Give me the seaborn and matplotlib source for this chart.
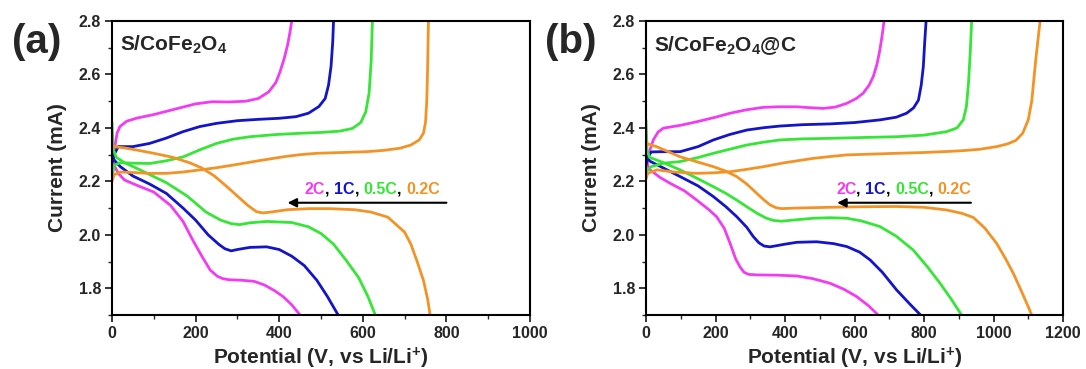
import matplotlib
matplotlib.use("Agg")
import matplotlib.pyplot as plt
import seaborn as sns
import pandas as pd
from matplotlib.offsetbox import TextArea, HPacker, AnnotationBbox
from matplotlib.ticker import MultipleLocator

# ---------------- data ----------------
rates = ["2C", "1C", "0.5C", "0.2C"]
colors = {"2C": "#F23CF2", "1C": "#1414C8", "0.5C": "#36E636", "0.2C": "#F39326"}

# Panel (a) S/CoFe2O4 -- discharge branches
a_dis_2C_x = [0, 5, 15, 30, 60, 100, 140, 170, 195, 215, 235, 252, 265, 280, 310, 340, 365, 390, 410, 430, 450]
a_dis_2C_y = [2.30, 2.26, 2.23, 2.205, 2.185, 2.16, 2.11, 2.05, 1.975, 1.92, 1.868, 1.845, 1.836, 1.832, 1.830, 1.826, 1.812, 1.790, 1.768, 1.738, 1.700]
a_dis_1C_x = [0, 5, 20, 50, 90, 130, 170, 200, 230, 255, 270, 285, 300, 330, 370, 400, 430, 460, 490, 515, 541]
a_dis_1C_y = [2.32, 2.28, 2.255, 2.22, 2.19, 2.155, 2.10, 2.055, 2.0, 1.965, 1.948, 1.94, 1.945, 1.953, 1.955, 1.945, 1.92, 1.885, 1.83, 1.77, 1.70]
a_dis_05C_x = [0, 3, 10, 30, 67, 130, 180, 225, 260, 285, 305, 330, 370, 430, 470, 500, 530, 560, 590, 612, 630]
a_dis_05C_y = [2.42, 2.32, 2.29, 2.27, 2.243, 2.195, 2.145, 2.085, 2.055, 2.042, 2.038, 2.045, 2.050, 2.046, 2.03, 2.005, 1.965, 1.905, 1.84, 1.77, 1.70]
a_dis_02C_x = [0, 5, 30, 60, 100, 145, 185, 215, 245, 275, 300, 325, 345, 360, 380, 420, 470, 520, 580, 620, 660, 700, 715, 730, 745, 755, 761]
a_dis_02C_y = [2.34, 2.33, 2.325, 2.317, 2.305, 2.29, 2.27, 2.25, 2.22, 2.18, 2.145, 2.11, 2.087, 2.082, 2.085, 2.094, 2.098, 2.098, 2.094, 2.085, 2.066, 2.01, 1.965, 1.90, 1.83, 1.76, 1.70]
# Panel (a) -- charge branches
a_ch_2C_x = [0, 3, 7, 12, 19, 35, 60, 100, 150, 200, 240, 280, 320, 350, 375, 392, 402, 412, 420, 426, 430]
a_ch_2C_y = [2.25, 2.28, 2.33, 2.38, 2.405, 2.425, 2.437, 2.45, 2.47, 2.49, 2.498, 2.497, 2.50, 2.51, 2.535, 2.57, 2.61, 2.66, 2.71, 2.76, 2.80]
a_ch_1C_x = [0, 5, 15, 30, 50, 90, 130, 170, 210, 250, 300, 350, 400, 440, 470, 495, 510, 518, 524, 528, 530]
a_ch_1C_y = [2.27, 2.30, 2.33, 2.33, 2.33, 2.342, 2.362, 2.386, 2.405, 2.417, 2.427, 2.432, 2.436, 2.442, 2.455, 2.48, 2.51, 2.56, 2.63, 2.72, 2.80]
a_ch_05C_x = [0, 5, 20, 50, 91, 130, 171, 210, 250, 290, 330, 390, 450, 500, 545, 575, 595, 607, 615, 620, 623]
a_ch_05C_y = [2.21, 2.26, 2.27, 2.268, 2.267, 2.277, 2.292, 2.318, 2.342, 2.358, 2.367, 2.375, 2.38, 2.383, 2.388, 2.398, 2.42, 2.46, 2.53, 2.65, 2.80]
a_ch_02C_x = [0, 5, 20, 51, 90, 131, 170, 211, 250, 290, 350, 410, 450, 490, 550, 609, 650, 689, 715, 735, 745, 750, 753, 755, 757]
a_ch_02C_y = [2.20, 2.225, 2.235, 2.233, 2.23, 2.23, 2.235, 2.243, 2.251, 2.261, 2.277, 2.292, 2.30, 2.305, 2.308, 2.311, 2.316, 2.324, 2.336, 2.355, 2.38, 2.42, 2.50, 2.62, 2.80]

# Panel (b) S/CoFe2O4@C -- discharge branches
b_dis_2C_x = [0, 5, 12, 40, 69, 110, 146, 180, 203, 225, 242, 258, 270, 282, 295, 320, 380, 434, 480, 529, 570, 606, 640, 668]
b_dis_2C_y = [2.29, 2.26, 2.243, 2.215, 2.193, 2.165, 2.13, 2.095, 2.068, 2.025, 1.968, 1.91, 1.881, 1.86, 1.852, 1.85, 1.849, 1.846, 1.836, 1.819, 1.796, 1.769, 1.735, 1.70]
b_dis_1C_x = [0, 5, 12, 50, 98, 150, 194, 230, 261, 290, 309, 325, 340, 357, 400, 434, 491, 540, 578, 615, 645, 680, 721, 760, 790]
b_dis_1C_y = [2.30, 2.285, 2.275, 2.25, 2.218, 2.183, 2.143, 2.105, 2.068, 2.028, 1.993, 1.97, 1.958, 1.955, 1.965, 1.972, 1.974, 1.967, 1.956, 1.935, 1.906, 1.86, 1.794, 1.74, 1.70]
b_dis_05C_x = [0, 3, 10, 50, 98, 146, 194, 230, 261, 290, 319, 345, 366, 390, 430, 481, 530, 578, 620, 673, 720, 769, 810, 846, 878, 908]
b_dis_05C_y = [2.43, 2.32, 2.29, 2.27, 2.243, 2.212, 2.18, 2.155, 2.13, 2.105, 2.081, 2.063, 2.054, 2.051, 2.056, 2.062, 2.064, 2.062, 2.052, 2.031, 1.995, 1.943, 1.88, 1.819, 1.76, 1.70]
b_dis_02C_x = [0, 5, 30, 98, 150, 194, 230, 261, 290, 319, 340, 357, 375, 390, 430, 529, 620, 721, 800, 865, 910, 942, 975, 1009, 1035, 1057, 1080, 1100, 1110]
b_dis_02C_y = [2.35, 2.34, 2.33, 2.292, 2.272, 2.255, 2.238, 2.218, 2.19, 2.155, 2.13, 2.112, 2.101, 2.098, 2.100, 2.103, 2.105, 2.106, 2.103, 2.093, 2.08, 2.065, 2.025, 1.968, 1.91, 1.856, 1.79, 1.731, 1.70]
# Panel (b) -- charge branches
b_ch_2C_x = [0, 5, 12, 21, 35, 50, 100, 146, 200, 242, 290, 338, 380, 434, 480, 510, 545, 578, 605, 625, 642, 654, 665, 673, 680, 685]
b_ch_2C_y = [2.25, 2.28, 2.32, 2.355, 2.385, 2.399, 2.41, 2.423, 2.44, 2.455, 2.468, 2.477, 2.479, 2.479, 2.475, 2.473, 2.478, 2.492, 2.51, 2.53, 2.56, 2.592, 2.64, 2.692, 2.75, 2.80]
b_ch_1C_x = [0, 5, 15, 40, 98, 150, 194, 240, 290, 340, 386, 450, 529, 600, 673, 720, 750, 770, 784, 792, 798, 802, 806]
b_ch_1C_y = [2.26, 2.29, 2.31, 2.311, 2.311, 2.33, 2.355, 2.375, 2.392, 2.401, 2.407, 2.412, 2.415, 2.42, 2.43, 2.44, 2.455, 2.475, 2.504, 2.56, 2.629, 2.72, 2.80]
b_ch_05C_x = [0, 3, 15, 50, 98, 146, 194, 240, 290, 340, 386, 450, 529, 620, 721, 800, 865, 895, 913, 922, 928, 933, 937]
b_ch_05C_y = [2.21, 2.24, 2.255, 2.268, 2.274, 2.288, 2.305, 2.32, 2.336, 2.347, 2.355, 2.359, 2.361, 2.364, 2.367, 2.373, 2.386, 2.40, 2.43, 2.48, 2.567, 2.68, 2.80]
b_ch_02C_x = [0, 5, 31, 80, 146, 194, 242, 290, 338, 400, 481, 530, 578, 650, 721, 800, 870, 913, 960, 1009, 1040, 1064, 1084, 1100, 1110, 1116, 1122, 1128, 1134]
b_ch_02C_y = [2.21, 2.23, 2.243, 2.235, 2.23, 2.232, 2.236, 2.245, 2.255, 2.27, 2.286, 2.293, 2.299, 2.302, 2.305, 2.308, 2.312, 2.315, 2.32, 2.33, 2.34, 2.353, 2.38, 2.43, 2.5, 2.58, 2.66, 2.73, 2.80]

x_ticks_a = [0, 200, 400, 600, 800, 1000]
x_ticks_b = [0, 200, 400, 600, 800, 1000, 1200]
y_ticks = [1.8, 2.0, 2.2, 2.4, 2.6, 2.8]
sample_labels = ["S/CoFe$_2$O$_4$", "S/CoFe$_2$O$_4$@C"]
panel_letters = ["(a)", "(b)"]

curves = {
    "a": {
        "2C": [(a_dis_2C_x, a_dis_2C_y), (a_ch_2C_x, a_ch_2C_y)],
        "1C": [(a_dis_1C_x, a_dis_1C_y), (a_ch_1C_x, a_ch_1C_y)],
        "0.5C": [(a_dis_05C_x, a_dis_05C_y), (a_ch_05C_x, a_ch_05C_y)],
        "0.2C": [(a_dis_02C_x, a_dis_02C_y), (a_ch_02C_x, a_ch_02C_y)],
    },
    "b": {
        "2C": [(b_dis_2C_x, b_dis_2C_y), (b_ch_2C_x, b_ch_2C_y)],
        "1C": [(b_dis_1C_x, b_dis_1C_y), (b_ch_1C_x, b_ch_1C_y)],
        "0.5C": [(b_dis_05C_x, b_dis_05C_y), (b_ch_05C_x, b_ch_05C_y)],
        "0.2C": [(b_dis_02C_x, b_dis_02C_y), (b_ch_02C_x, b_ch_02C_y)],
    },
}

# ---------------- style ----------------
sns.set_style("ticks")
plt.rcParams["font.family"] = ["Liberation Sans", "DejaVu Sans"]
plt.rcParams["font.weight"] = "bold"
plt.rcParams["axes.labelweight"] = "bold"
plt.rcParams["mathtext.fontset"] = "custom"
plt.rcParams["mathtext.rm"] = "Liberation Sans:bold"
plt.rcParams["mathtext.it"] = "Liberation Sans:bold"
plt.rcParams["mathtext.bf"] = "Liberation Sans:bold"
plt.rcParams["mathtext.sf"] = "Liberation Sans:bold"
plt.rcParams["mathtext.default"] = "rm"

W, H = 1086, 369
fig = plt.figure(figsize=(W / 100, H / 100), dpi=100)
ax_a = fig.add_axes([112 / W, 1 - 315 / H, 418 / W, 294 / H])
ax_b = fig.add_axes([646 / W, 1 - 315 / H, 417 / W, 294 / H])

settings = {
    "a": dict(ax=ax_a, xmax=1000, xticks=x_ticks_a, label=sample_labels[0],
              text_x=623, arrow=(800, 420), letter=panel_letters[0], letter_x=37),
    "b": dict(ax=ax_b, xmax=1200, xticks=x_ticks_b, label=sample_labels[1],
              text_x=742, arrow=(935, 550), letter=panel_letters[1], letter_x=571),
}

for key, s in settings.items():
    ax = s["ax"]
    for rate in rates:
        for xs, ys in curves[key][rate]:
            df = pd.DataFrame({"cap": xs, "volt": ys})
            sns.lineplot(data=df, x="cap", y="volt", sort=False, estimator=None,
                         color=colors[rate], lw=2.0, ax=ax, legend=False,
                         solid_joinstyle="round", solid_capstyle="round")
    ax.set_xlim(0, s["xmax"])
    ax.set_ylim(1.7, 2.8)
    ax.set_xticks(s["xticks"])
    ax.set_yticks(y_ticks)
    ax.xaxis.set_minor_locator(MultipleLocator(100))
    ax.yaxis.set_minor_locator(MultipleLocator(0.1))
    ax.tick_params(which="major", direction="out", length=5, width=1.3,
                   labelsize=11.5, pad=3)
    ax.tick_params(which="minor", direction="out", length=3, width=1.0)
    for lab in ax.get_xticklabels() + ax.get_yticklabels():
        lab.set_fontweight("bold")
    for sp in ax.spines.values():
        sp.set_visible(True)
        sp.set_linewidth(1.5)
        sp.set_color("black")
    ax.set_xlabel("Potential (V, vs Li/Li$^{+}$)", fontsize=15, fontweight="bold", labelpad=3)
    ax.set_ylabel("Current (mA)", fontsize=15, fontweight="bold", labelpad=8)

    ax.text(0.018, 0.918, s["label"], transform=ax.transAxes, fontsize=15,
            fontweight="bold", ha="left", va="center")

    # coloured rate annotation
    parts = [("2C", colors["2C"]), (", ", "black"), ("1C", colors["1C"]), (", ", "black"),
             ("0.5C", colors["0.5C"]), (", ", "black"), ("0.2C", colors["0.2C"])]
    boxes = [TextArea(t, textprops=dict(color=c, fontsize=11.5, fontweight="bold"))
             for t, c in parts]
    pack = HPacker(children=boxes, align="baseline", pad=0, sep=0)
    ab = AnnotationBbox(pack, (s["text_x"], 2.17), xycoords="data", frameon=False,
                        box_alignment=(0.5, 0.5), pad=0)
    ax.add_artist(ab)
    x0, x1 = s["arrow"]
    ax.annotate("", xy=(x1, 2.12), xytext=(x0, 2.12), xycoords="data",
                arrowprops=dict(arrowstyle="-|>", color="black", lw=1.5,
                                mutation_scale=13, shrinkA=0, shrinkB=0))

    fig.text(s["letter_x"] / W, 1 - 42 / H, s["letter"], fontsize=29,
             fontweight="bold", ha="center", va="center")

fig.savefig("out.png", dpi=100)
